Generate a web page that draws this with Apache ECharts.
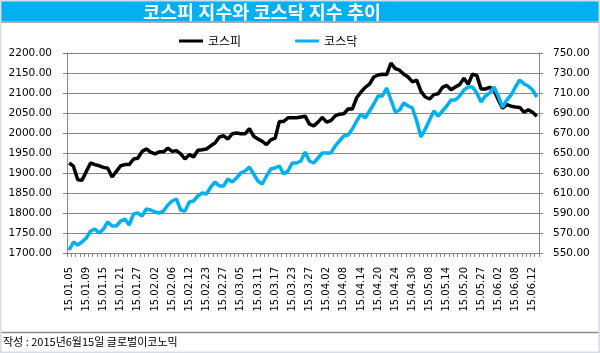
<!DOCTYPE html>
<html>
<head>
<meta charset="utf-8">
<script src="https://cdn.jsdelivr.net/npm/echarts@6/dist/echarts.min.js"></script>
<style>
  html, body { margin: 0; padding: 0; background: #fff; }
  #chart { width: 600px; height: 353px; }
</style>
</head>
<body>
<div id="chart"></div>
<script>
// 거래일 (2015)
const categories = [
  "15.01.05","15.01.06","15.01.07","15.01.08","15.01.09","15.01.12","15.01.13","15.01.14","15.01.15","15.01.16",
  "15.01.19","15.01.20","15.01.21","15.01.22","15.01.23","15.01.26","15.01.27","15.01.28","15.01.29","15.01.30",
  "15.02.02","15.02.03","15.02.04","15.02.05","15.02.06","15.02.09","15.02.10","15.02.11","15.02.12","15.02.13",
  "15.02.16","15.02.17","15.02.23","15.02.24","15.02.25","15.02.26","15.02.27",
  "15.03.02","15.03.03","15.03.04","15.03.05","15.03.06","15.03.09","15.03.10","15.03.11","15.03.12","15.03.13",
  "15.03.16","15.03.17","15.03.18","15.03.19","15.03.20","15.03.23","15.03.24","15.03.25","15.03.26","15.03.27",
  "15.03.30","15.03.31",
  "15.04.01","15.04.02","15.04.03","15.04.06","15.04.07","15.04.08","15.04.09","15.04.10","15.04.13","15.04.14",
  "15.04.15","15.04.16","15.04.17","15.04.20","15.04.21","15.04.22","15.04.23","15.04.24","15.04.27","15.04.28",
  "15.04.29","15.04.30",
  "15.05.04","15.05.06","15.05.07","15.05.08","15.05.11","15.05.12","15.05.13","15.05.14","15.05.15","15.05.18",
  "15.05.19","15.05.20","15.05.21","15.05.22","15.05.26","15.05.27","15.05.28","15.05.29",
  "15.06.01","15.06.02","15.06.03","15.06.04","15.06.05","15.06.08","15.06.09","15.06.10","15.06.11","15.06.12",
  "15.06.15"
];

// 코스피 (왼쪽 축)
const kospi = [
  1925,1917,1883,1882,1904,1925,1921,1918,1914,1912,
  1890,1904,1918,1921,1921,1935,1937,1954,1960,1952,
  1948,1953,1953,1962,1954,1956,1948,1935,1946,1940,
  1957,1958,1960,1968,1975,1990,1993,1985,1998,2000,
  1998,1998,2011,1992,1985,1979,1971,1983,1987,2029,
  2029,2038,2038,2038,2040,2042,2022,2018,2027,2039,
  2027,2031,2043,2047,2048,2060,2060,2088,2102,2114,
  2122,2140,2145,2147,2146,2175,2161,2157,2147,2140,
  2128,2132,2104,2090,2085,2096,2098,2114,2119,2108,
  2115,2121,2137,2122,2147,2144,2110,2110,2114,2108,
  2083,2062,2071,2067,2065,2064,2052,2058,2052,2042
];

// 코스닥 (오른쪽 축)
const kosdaq = [
  553,561,558,561,565,572,574,570,574,581,
  577,577,582,584,578,589,590,587,594,593,
  591,590,592,598,602,604,593,592,601,602,
  607,610,609,616,621,617,617,624,621,625,
  630,632,636,629,622,619,627,634,635,637,
  629,632,640,640,642,651,642,640,645,650,
  650,650,657,662,667,668,674,682,689,685,
  692,699,707,707,715,703,691,693,700,697,
  695,682,666,674,683,692,687,692,697,703,
  703,707,713,716,716,710,701,707,710,716,
  707,696,703,708,716,723,719,717,713,706
];

const gridColor = "#868686";
const numFont = "DejaVu Sans";
const krFont = "Noto Sans CJK KR";

const chart = echarts.init(document.getElementById("chart"));
chart.setOption({
  animation: false,
  backgroundColor: "#fff",
  graphic: [
    { type: "rect", z: 0, shape: { x: 0, y: 0, width: 600, height: 21 }, style: { fill: "#00B0F0" } },
    { type: "line", z: 0, shape: { x1: 0, y1: 22, x2: 600, y2: 22 }, style: { stroke: "#8c8c8c", lineWidth: 1.5 } },
    { type: "line", z: 0, shape: { x1: 0, y1: 332.5, x2: 600, y2: 332.5 }, style: { stroke: "#8c8c8c", lineWidth: 1.5 } },
    { type: "rect", z: 0, shape: { x: 0.5, y: 0.5, width: 599, height: 352 }, style: { fill: null, stroke: "#d5dde8", lineWidth: 2 } }
  ],
  title: [
    {
      text: "코스피 지수와 코스닥 지수 추이",
      left: 143, top: 1, padding: 0, z: 10,
      textStyle: { color: "#fff", fontSize: 18.5, fontWeight: "bold", fontFamily: krFont, lineHeight: 21 }
    },
    {
      text: "작성 : 2015년6월15일 글로벌이코노믹",
      left: 3, top: 335, padding: 0,
      textStyle: { color: "#000", fontSize: 11, fontWeight: "normal", fontFamily: krFont, lineHeight: 14 }
    }
  ],
  legend: {
    left: 179, top: 35, padding: 0,
    icon: "rect", itemWidth: 24, itemHeight: 3, itemGap: 54,
    textStyle: { color: "#000", fontSize: 12, fontFamily: krFont },
    data: ["코스피", "코스닥"]
  },
  grid: { left: 67, right: 61, top: 53, bottom: 100 },
  xAxis: {
    type: "category",
    data: categories,
    boundaryGap: true,
    axisLine: { lineStyle: { color: gridColor } },
    axisTick: { show: true, interval: 0, length: 4, lineStyle: { color: gridColor } },
    axisLabel: { interval: 3, rotate: 90, margin: 14, color: "#000", fontSize: 10, fontFamily: numFont }
  },
  yAxis: [
    {
      type: "value", position: "left", min: 1700, max: 2200, interval: 50,
      axisLine: { show: true, lineStyle: { color: gridColor } },
      axisTick: { show: true, length: 4, lineStyle: { color: gridColor } },
      splitLine: { lineStyle: { color: gridColor } },
      axisLabel: { margin: 15, color: "#000", fontSize: 10.5, fontFamily: numFont, formatter: v => v.toFixed(2) }
    },
    {
      type: "value", position: "right", min: 550, max: 750, interval: 20,
      axisLine: { show: true, lineStyle: { color: gridColor } },
      axisTick: { show: true, length: 4, lineStyle: { color: gridColor } },
      splitLine: { show: false },
      axisLabel: { margin: 14, color: "#000", fontSize: 10.5, fontFamily: numFont, formatter: v => v.toFixed(2) }
    }
  ],
  series: [
    {
      name: "코스피", type: "line", yAxisIndex: 0, data: kospi,
      showSymbol: false, symbol: "none", color: "#000",
      lineStyle: { width: 3.5, color: "#000" }
    },
    {
      name: "코스닥", type: "line", yAxisIndex: 1, data: kosdaq,
      showSymbol: false, symbol: "none", color: "#00B0F0",
      lineStyle: { width: 3.5, color: "#00B0F0" }
    }
  ]
});
</script>
</body>
</html>
